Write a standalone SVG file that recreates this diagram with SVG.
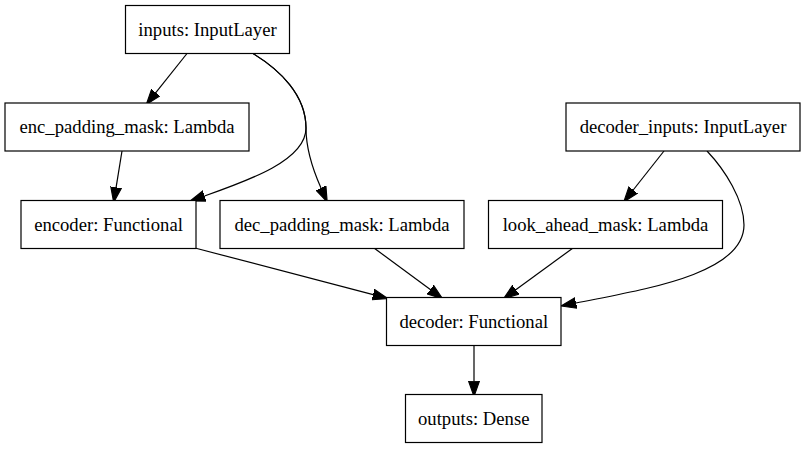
<svg xmlns="http://www.w3.org/2000/svg" width="806" height="449" viewBox="0 0 806 449">
<style>
.node rect { fill: #ffffff; stroke: #000000; stroke-width: 1.2; }
.node text { font-family: "Liberation Serif", "Times New Roman", serif; font-size: 18.67px; fill: #000000; text-anchor: middle; }
.edges path { fill: none; stroke: #000000; stroke-width: 1.2; }
</style>
<defs>
<marker id="arr" markerUnits="userSpaceOnUse" markerWidth="16" markerHeight="12" refX="0" refY="4.7" orient="auto" viewBox="0 0 14 9.4">
<path d="M0,0 L13.3,4.7 L0,9.4 Z" fill="#000000" stroke="#000000" stroke-width="1"/>
</marker>
</defs>
<rect x="0" y="0" width="806" height="449" fill="#ffffff"/>
<g class="edges" id="edges">
<path d="M187,53.5 L155.8,92.6" marker-end="url(#arr)"/>
<path d="M253,53.5 C280,70 306,95 306,128 C306,160 250,180 204.5,196" marker-end="url(#arr)"/>
<path d="M253,53.5 C280,70 306,95 306,128 C306,150 313,170 321,188" marker-end="url(#arr)"/>
<path d="M122,151 L116.1,187.4" marker-end="url(#arr)"/>
<path d="M664,151 L633.2,190" marker-end="url(#arr)"/>
<path d="M707,151 C725,170 744,200 744,225 C744,275 640,290 576,303" marker-end="url(#arr)"/>
<path d="M195,248 L373.1,294.6" marker-end="url(#arr)"/>
<path d="M374,248 L430.3,289.6" marker-end="url(#arr)"/>
<path d="M573,248 L515.8,289.7" marker-end="url(#arr)"/>
<path d="M474,345.5 L474,381.2" marker-end="url(#arr)"/>
</g>
<g class="node" id="inputs">
<rect x="125.5" y="5.5" width="164" height="48"/>
<text x="207.5" y="35.8">inputs: InputLayer</text>
</g>
<g class="node" id="enc_padding_mask">
<rect x="5" y="103" width="244" height="48"/>
<text x="127" y="133.3">enc_padding_mask: Lambda</text>
</g>
<g class="node" id="decoder_inputs">
<rect x="566" y="103" width="234" height="48"/>
<text x="683" y="133.3">decoder_inputs: InputLayer</text>
</g>
<g class="node" id="encoder">
<rect x="21" y="200.5" width="175" height="48"/>
<text x="108.5" y="230.8">encoder: Functional</text>
</g>
<g class="node" id="dec_padding_mask">
<rect x="220" y="200.5" width="244" height="48"/>
<text x="342" y="230.8">dec_padding_mask: Lambda</text>
</g>
<g class="node" id="look_ahead_mask">
<rect x="488.5" y="200.5" width="234" height="48"/>
<text x="605.5" y="230.8">look_ahead_mask: Lambda</text>
</g>
<g class="node" id="decoder">
<rect x="386.5" y="297.5" width="174.5" height="48"/>
<text x="473.75" y="327.8">decoder: Functional</text>
</g>
<g class="node" id="outputs">
<rect x="405.5" y="394.5" width="136.5" height="48"/>
<text x="473.75" y="424.8">outputs: Dense</text>
</g>
</svg>
